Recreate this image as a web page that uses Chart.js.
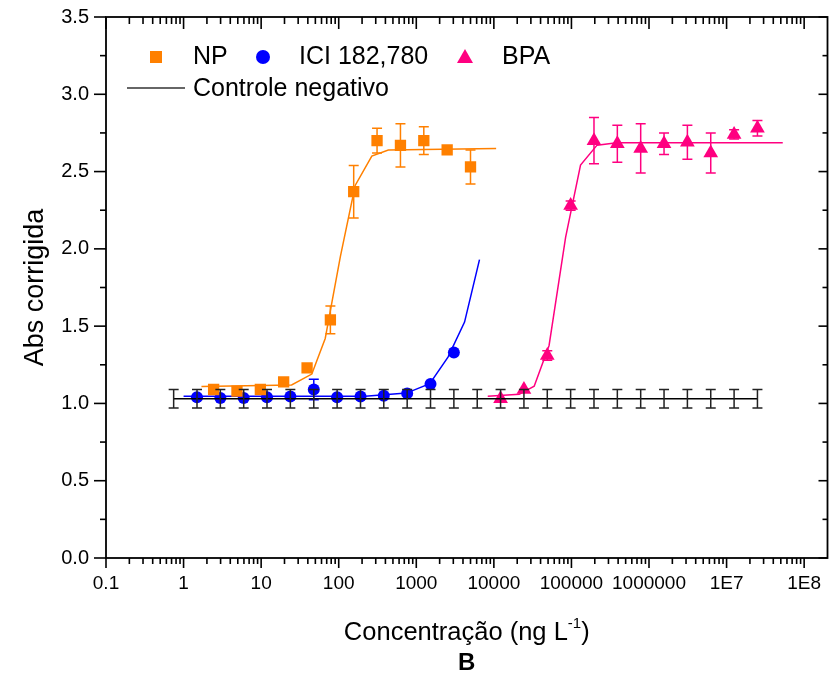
<!DOCTYPE html>
<html>
<head>
<meta charset="utf-8">
<script src="https://cdn.jsdelivr.net/npm/chart.js@4.4.1/dist/chart.umd.min.js"></script>
<style>
  body { margin: 0; background: #fff; }
  #wrap { width: 836px; height: 674px; }
</style>
</head>
<body>
<div id="wrap"><canvas id="chart"></canvas></div>
<script>
const FONT = '"Liberation Sans", Arial, sans-serif';

// NP (squares)
const npConc = [2.44, 4.88, 9.77, 19.5, 39.1, 78.1, 156, 312, 625, 1250, 2500, 5000];
const npAbs = [1.09, 1.08, 1.09, 1.14, 1.23, 1.54, 2.37, 2.70, 2.67, 2.70, 2.64, 2.53];
const npErr = [0, 0, 0, 0, 0, 0.09, 0.17, 0.08, 0.14, 0.09, 0, 0.11];
const npFitConc = [1.7, 24.7, 45, 67, 105, 163, 267, 436, 10700];
const npFitAbs = [1.11, 1.12, 1.19, 1.42, 1.95, 2.41, 2.60, 2.64, 2.65];

// ICI 182,780 (circles)
const iciConc = [1.49, 2.98, 5.96, 11.9, 23.8, 47.7, 95.4, 191, 381, 763, 1526, 3052];
const iciAbs = [1.04, 1.035, 1.035, 1.04, 1.045, 1.09, 1.04, 1.045, 1.05, 1.065, 1.125, 1.33];
const iciErr = [0, 0, 0, 0, 0, 0.067, 0, 0, 0, 0, 0, 0];
const iciFitConc = [1.0, 219, 748, 1493, 2563, 4190, 6530];
const iciFitAbs = [1.046, 1.046, 1.067, 1.128, 1.30, 1.526, 1.93];

// BPA (triangles)
const bpaConc = [12207, 24414, 48828, 97656, 195312, 390625, 781250, 1562500, 3125000, 6250000, 12500000, 25000000];
const bpaAbs = [1.03, 1.09, 1.31, 2.28, 2.70, 2.68, 2.65, 2.68, 2.69, 2.62, 2.74, 2.78];
const bpaErr = [0, 0, 0.03, 0.03, 0.15, 0.12, 0.16, 0.07, 0.11, 0.13, 0.03, 0.05];
const bpaFitConc = [8340, 21250, 33100, 51500, 84100, 131000, 214000, 386000, 53000000];
const bpaFitAbs = [1.046, 1.059, 1.111, 1.375, 2.075, 2.542, 2.671, 2.686, 2.686];

// Controle negativo
const ctrlConc = [0.745, 1.49, 2.98, 5.96, 11.9, 23.8, 47.7, 95.4, 191, 381, 763, 1526, 3052,
  6104, 12207, 24414, 48828, 97656, 195312, 390625, 781250, 1562500, 3125000, 6250000, 12500000, 25000000];
const ctrlAbs = [1.03, 1.03, 1.03, 1.03, 1.03, 1.03, 1.03, 1.03, 1.03, 1.03, 1.03, 1.03, 1.03,
  1.03, 1.03, 1.03, 1.03, 1.03, 1.03, 1.03, 1.03, 1.03, 1.03, 1.03, 1.03, 1.03];
const ctrlErr = [0.06, 0.06, 0.06, 0.06, 0.06, 0.06, 0.06, 0.06, 0.06, 0.06, 0.06, 0.06, 0.06,
  0.06, 0.06, 0.06, 0.06, 0.06, 0.06, 0.06, 0.06, 0.06, 0.06, 0.06, 0.06, 0.06];

// axis ticks
const xTickValues = [0.1, 1, 10, 100, 1000, 10000, 100000, 1000000, 10000000, 100000000];
const xTickLabels = ['0.1', '1', '10', '100', '1000', '10000', '100000', '1000000', '1E7', '1E8'];
const yTickValues = [0, 0.5, 1, 1.5, 2, 2.5, 3, 3.5];

const ORANGE = '#ff8000';
const BLUE = '#0000ff';
const PINK = '#ff0080';

const pts = (xs, ys) => xs.map((x, i) => ({ x: x, y: ys[i] }));

const errorSets = [
  { x: npConc, y: npAbs, err: npErr, color: ORANGE },
  { x: iciConc, y: iciAbs, err: iciErr, color: BLUE },
  { x: bpaConc, y: bpaAbs, err: bpaErr, color: PINK }
];
const ctrlErrSet = { x: ctrlConc, y: ctrlAbs, err: ctrlErr, color: '#222' };

const drawErrors = (chart, list) => {
  const ctx = chart.ctx;
  const xs = chart.scales.x, ys = chart.scales.y;
  list.forEach(s => {
    ctx.save();
    ctx.strokeStyle = s.color;
    ctx.lineWidth = 1.5;
    s.x.forEach((v, i) => {
      const e = s.err[i];
      if (!e) return;
      const px = xs.getPixelForValue(v);
      const top = ys.getPixelForValue(s.y[i] + e);
      const bot = ys.getPixelForValue(s.y[i] - e);
      ctx.beginPath();
      ctx.moveTo(px, top); ctx.lineTo(px, bot);
      ctx.moveTo(px - 5, top); ctx.lineTo(px + 5, top);
      ctx.moveTo(px - 5, bot); ctx.lineTo(px + 5, bot);
      ctx.stroke();
    });
    ctx.restore();
  });
};

const errorBars = {
  id: 'errorBars',
  beforeDatasetsDraw(chart) { drawErrors(chart, errorSets); },
  afterDatasetsDraw(chart) { drawErrors(chart, [ctrlErrSet]); }
};

// frame, ticks on all four sides, x title, panel letter, legend
const decorations = {
  id: 'decorations',
  afterDraw(chart) {
    const ctx = chart.ctx;
    const a = chart.chartArea;
    const xs = chart.scales.x, ys = chart.scales.y;
    ctx.save();
    ctx.strokeStyle = '#000';
    ctx.lineWidth = 1.8;
    ctx.strokeRect(a.left, a.top, a.right - a.left, a.bottom - a.top);

    const line = (x1, y1, x2, y2) => { ctx.beginPath(); ctx.moveTo(x1, y1); ctx.lineTo(x2, y2); ctx.stroke(); };

    // x ticks
    ctx.lineWidth = 1.6;
    for (let k = -1; k <= 8; k++) {
      for (let m = 1; m <= 9; m++) {
        const v = m * Math.pow(10, k);
        if (v < xs.min || v >= xs.max) continue;
        const px = xs.getPixelForValue(v);
        const major = m === 1;
        line(px, a.bottom, px, a.bottom + (major ? 10 : 6));
        line(px, a.top, px, a.top + (major ? 12 : 7));
      }
    }
    // y ticks
    for (let v = 0; v <= 3.5001; v += 0.25) {
      const py = ys.getPixelForValue(v);
      const major = Math.abs(v * 2 - Math.round(v * 2)) < 1e-6;
      line(a.left - (major ? 12 : 6), py, a.left, py);
      line(a.right - (major ? 9 : 5), py, a.right, py);
    }

    // x axis title with superscript
    ctx.fillStyle = '#000';
    ctx.textBaseline = 'alphabetic';
    ctx.textAlign = 'left';
    const main = 'Concentração (ng L', sup = '-1', end = ')';
    ctx.font = '25.5px ' + FONT;
    const w1 = ctx.measureText(main).width;
    const w3 = ctx.measureText(end).width;
    ctx.font = '15px ' + FONT;
    const w2 = ctx.measureText(sup).width;
    const cx = (a.left + a.right) / 2;
    let x0 = cx - (w1 + w2 + w3) / 2;
    ctx.font = '25.5px ' + FONT;
    ctx.fillText(main, x0, 640);
    ctx.font = '15px ' + FONT;
    ctx.fillText(sup, x0 + w1, 628);
    ctx.font = '25.5px ' + FONT;
    ctx.fillText(end, x0 + w1 + w2, 640);

    ctx.font = 'bold 24px ' + FONT;
    ctx.textAlign = 'center';
    ctx.fillText('B', cx, 670);

    // legend
    ctx.textAlign = 'left';
    ctx.font = '25px ' + FONT;
    ctx.fillStyle = ORANGE;
    ctx.fillRect(150, 51, 12, 12);
    ctx.fillStyle = BLUE;
    ctx.beginPath(); ctx.arc(263, 57, 7, 0, Math.PI * 2); ctx.fill();
    ctx.fillStyle = PINK;
    ctx.beginPath(); ctx.moveTo(465, 49); ctx.lineTo(473, 63); ctx.lineTo(457, 63); ctx.closePath(); ctx.fill();
    ctx.fillStyle = '#000';
    ctx.fillText('NP', 193, 64);
    ctx.fillText('ICI 182,780', 299, 64);
    ctx.fillText('BPA', 502, 64);
    ctx.strokeStyle = '#333';
    ctx.lineWidth = 1.5;
    line(127, 88, 185, 88);
    ctx.fillText('Controle negativo', 193, 96);
    ctx.restore();
  }
};

const ctx = document.getElementById('chart').getContext('2d');
Chart.defaults.font.family = FONT;
Chart.defaults.color = '#000';

new Chart(ctx, {
  type: 'scatter',
  data: {
    datasets: [
      { label: 'Controle negativo', data: pts(ctrlConc, ctrlAbs), showLine: true, borderColor: '#000',
        borderWidth: 1.5, pointRadius: 0 },
      { label: 'NP', data: pts(npConc, npAbs), pointStyle: 'rect', pointRadius: 8,
        backgroundColor: ORANGE, borderColor: ORANGE, borderWidth: 0 },
      { label: 'NP fit', data: pts(npFitConc, npFitAbs), showLine: true, borderColor: ORANGE,
        borderWidth: 1.5, pointRadius: 0 },
      { label: 'ICI 182,780', data: pts(iciConc, iciAbs), pointStyle: 'circle', pointRadius: 6,
        backgroundColor: BLUE, borderColor: BLUE, borderWidth: 0 },
      { label: 'ICI fit', data: pts(iciFitConc, iciFitAbs), showLine: true, borderColor: BLUE,
        borderWidth: 1.5, pointRadius: 0 },
      { label: 'BPA', data: pts(bpaConc, bpaAbs), pointStyle: 'triangle', pointRadius: 8.5,
        backgroundColor: PINK, borderColor: PINK, borderWidth: 0 },
      { label: 'BPA fit', data: pts(bpaFitConc, bpaFitAbs), showLine: true, borderColor: PINK,
        borderWidth: 1.5, pointRadius: 0 }
    ]
  },
  options: {
    responsive: true,
    maintainAspectRatio: false,
    animation: false,
    layout: { padding: { top: 16, right: 5, left: 0, bottom: 0 } },
    plugins: { legend: { display: false }, tooltip: { enabled: false } },
    scales: {
      x: {
        type: 'logarithmic',
        min: 0.1,
        max: 2e8,
        afterBuildTicks: (scale) => { scale.ticks = xTickValues.map(v => ({ value: v })); },
        afterFit: (scale) => { scale.height = 116; },
        ticks: {
          autoSkip: false,
          maxRotation: 0,
          padding: 4,
          font: { size: 19 },
          callback: (v, i) => xTickLabels[i]
        },
        grid: { drawOnChartArea: false, tickLength: 10, tickColor: 'rgba(0,0,0,0)' },
        border: { display: false }
      },
      y: {
        min: 0,
        max: 3.5,
        afterBuildTicks: (scale) => { scale.ticks = yTickValues.map(v => ({ value: v })); },
        afterFit: (scale) => { scale.width = 106; },
        ticks: {
          padding: 5,
          font: { size: 20 },
          callback: (v) => v.toFixed(1)
        },
        grid: { drawOnChartArea: false, tickLength: 12, tickColor: 'rgba(0,0,0,0)' },
        border: { display: false },
        title: { display: true, text: 'Abs corrigida', font: { size: 27 }, padding: { top: 19, bottom: 0 } }
      }
    }
  },
  plugins: [errorBars, decorations]
});
</script>
</body>
</html>
